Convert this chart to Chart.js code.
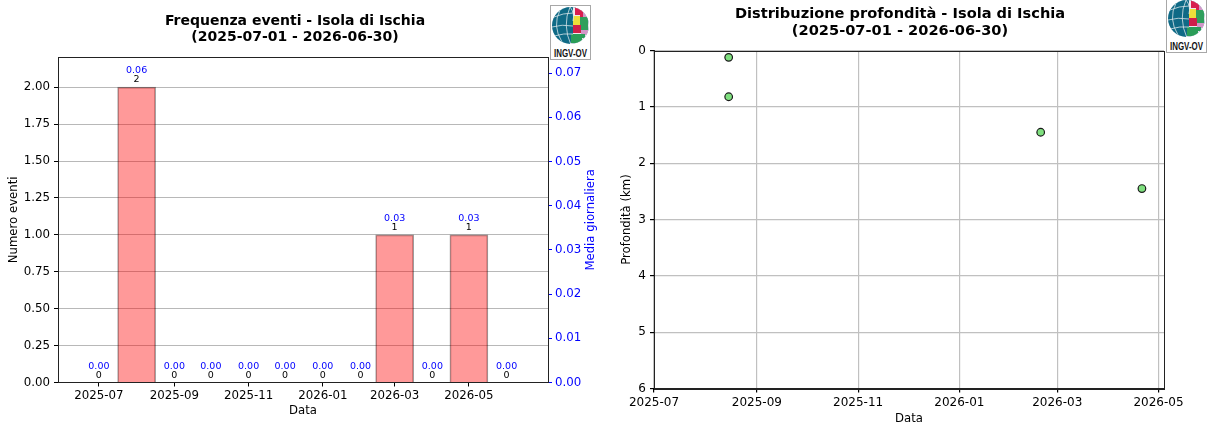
<!DOCTYPE html>
<html><head><meta charset="utf-8">
<style>
html,body{margin:0;padding:0;background:#fff;width:1207px;height:427px;overflow:hidden}
.w{position:absolute;top:0;height:427px}
.logo{position:absolute}
</style>
<script src="https://cdn.jsdelivr.net/npm/chart.js@4/dist/chart.umd.min.js"></script>
</head><body>
<div class="w" style="left:-14px;width:618px"><canvas id="c1"></canvas></div>
<div class="w" style="left:600px;width:600px"><canvas id="c2"></canvas></div>
<svg class="logo" style="left:550px;top:5px" width="41" height="55" viewBox="0 0 41 55"><defs>
<clipPath id="gc"><circle cx="20.5" cy="20.5" r="18.5"/></clipPath>
<g id="lg">
<rect x=".5" y=".5" width="40" height="54" fill="#fff" stroke="#a8a8a8"/>
<g clip-path="url(#gc)">
<rect x="1" y="1" width="40" height="40" fill="#0f6a86"/>
<path d="M23 1h18v40H20v-3h3z" fill="#efe9ee"/>
<path d="M25 2h8v10h-3v-2h-5z" fill="#d81f4f"/>
<path d="M33 3h5v9h-5z" fill="#d296c8"/>
<path d="M23 11h7v9h-7z" fill="#ecdf3a"/>
<path d="M30 12h8v13h-8z" fill="#2f9f5c"/>
<path d="M23 20h8v8h-8z" fill="#cf1f4a"/>
<path d="M31 25h7v5h-7z" fill="#d296c8"/>
<path d="M21 29h14v4h-3v5H21z" fill="#2a9d58"/>
<path d="M2 22q10-3 21-1M4 12q9-4 19-4M4 31q10-3 19-2M20 2q-8 18 1 38M10 5q-8 16 2 32M20 2q5 6 3 14" stroke="#dbe6ea" stroke-width=".8" fill="none"/>
</g>
<text x="20.5" y="52" text-anchor="middle" font-family="Liberation Sans Narrow, Liberation Sans" font-weight="700" font-size="11" textLength="33" lengthAdjust="spacingAndGlyphs" fill="#111">INGV-OV</text>
</g></defs><use href="#lg"/></svg>
<svg class="logo" style="left:1166px;top:-2px" width="41" height="55" viewBox="0 0 41 55"><use href="#lg"/></svg>
<script>
const FONT = 'DejaVu Sans';
const monthLabels = ['2025-07','2025-08','2025-09','2025-10','2025-11','2025-12','2026-01','2026-02','2026-03','2026-04','2026-05','2026-06'];
const monthDays = [0,31,62,92,123,153,184,215,243,274,304,335];
const eventCounts = [0,2,0,0,0,0,0,0,1,0,1,0];
const dailyMeans = [0,0.06,0,0,0,0,0,0,0.03,0,0.03,0];
const tickDays = [0,62,123,184,243,304];
const tickLabels = ['2025-07','2025-09','2025-11','2026-01','2026-03','2026-05'];
const leftTicks = [0,0.25,0.5,0.75,1,1.25,1.5,1.75,2];
const rightTicks = [0,0.01,0.02,0.03,0.04,0.05,0.06,0.07];
const quakeDays = [45,45,233,294];
const quakeDepths = [0.12,0.82,1.45,2.45];
const depthTicks = [0,1,2,3,4,5,6];
const title1 = ['Frequenza eventi - Isola di Ischia','(2025-07-01 - 2026-06-30)'];
const title2 = ['Distribuzione profondità - Isola di Ischia','(2025-07-01 - 2026-06-30)'];

Chart.defaults.font.family = FONT;
Chart.defaults.animation = false;
Chart.defaults.responsive = true;
Chart.defaults.maintainAspectRatio = false;

const setTicks = vals => s => { s.ticks = vals.map(v => ({value:v})); };
const xLabel = v => { const i = tickDays.indexOf(v); return i < 0 ? '' : tickLabels[i]; };
const fitW = w => s => { s.width = w; };
const fitH = h => s => { s.height = h; };

const barLabels = {id:'barLabels',afterDatasetsDraw(ch){
  const {ctx,scales:{x,y,y2}}=ch;
  ctx.save();ctx.textAlign='center';ctx.textBaseline='alphabetic';
  ctx.font='9.5px '+FONT;
  monthDays.forEach((d,i)=>{
    const px=x.getPixelForValue(d),py=y.getPixelForValue(eventCounts[i]);
    ctx.fillStyle='#000';ctx.fillText(String(eventCounts[i]),px,py-5);
    ctx.fillStyle='#0000ff';ctx.fillText(dailyMeans[i].toFixed(2),px,py-14);
  });
  ctx.font='11.7px '+FONT;ctx.fillStyle='#0000ff';
  ctx.translate(y2.right-13,(y2.top+y2.bottom)/2);ctx.rotate(-Math.PI/2);
  ctx.textBaseline='middle';ctx.fillText('Media giornaliera',0,0);
  ctx.restore();
}};
const frame = {id:'frame',afterDatasetsDraw(ch){
  const {ctx,chartArea:a}=ch;
  ctx.save();ctx.strokeStyle='#222';ctx.lineWidth=1;
  ctx.strokeRect(Math.round(a.left)+.5,Math.round(a.top)+.5,Math.round(a.width),Math.round(a.height));
  ctx.restore();
}};

new Chart(document.getElementById('c1'),{
  data:{datasets:[
    {type:'bar',yAxisID:'y',data:monthDays.map((d,i)=>({x:d,y:eventCounts[i]})),backgroundColor:'rgba(255,0,0,0.4)',borderColor:'rgba(0,0,0,0.4)',borderWidth:1,barThickness:38},
    {type:'line',yAxisID:'y2',data:monthDays.map((d,i)=>({x:d,y:dailyMeans[i]})),showLine:false,pointRadius:0}
  ]},
  plugins:[barLabels,frame],
  options:{
    plugins:{legend:{display:false},tooltip:{enabled:false},
      title:{display:true,text:title1,color:'#000',font:{size:14,weight:'bold',family:FONT,lineHeight:1.15},padding:{top:13,bottom:12}}},
    scales:{
      x:{type:'linear',offset:false,min:-33.6,max:369,grid:{offset:false,drawOnChartArea:false,tickColor:'#000',tickLength:4},border:{color:'#222'},
        afterBuildTicks:setTicks(tickDays),afterFit:fitH(44.5),
        ticks:{color:'#000',font:{size:11.8},callback:xLabel,maxRotation:0,autoSkip:false,padding:2},
        title:{display:true,text:'Data',color:'#000',font:{size:11.7},padding:{top:0,bottom:9}}},
      y:{position:'left',min:0,max:2.203,grid:{color:'#b8b8b8',lineWidth:1,tickColor:'#000',tickLength:4},border:{color:'#222'},
        afterBuildTicks:setTicks(leftTicks),afterFit:fitW(72),
        ticks:{color:'#000',font:{size:11.8},callback:v=>v.toFixed(2),padding:4},
        title:{display:true,text:'Numero eventi',color:'#000',font:{size:11.7},padding:{top:21,bottom:0}}},
      y2:{position:'right',min:0,max:0.0736,grid:{drawOnChartArea:false,tickColor:'#0000ff',tickLength:4},border:{color:'#222'},
        afterBuildTicks:setTicks(rightTicks),afterFit:fitW(56),
        ticks:{color:'#0000ff',font:{size:11.8},callback:v=>v.toFixed(2),padding:3}}
    }
  }
});

new Chart(document.getElementById('c2'),{
  type:'scatter',
  data:{datasets:[{data:quakeDays.map((d,i)=>({x:d,y:quakeDepths[i]})),backgroundColor:'#7fe07f',borderColor:'#1a1a1a',borderWidth:1.2,pointRadius:3.8}]},
  plugins:[frame],
  options:{
    plugins:{legend:{display:false},tooltip:{enabled:false},
      title:{display:true,text:title2,color:'#000',font:{size:14.6,weight:'bold',family:FONT,lineHeight:1.15},padding:{top:6,bottom:11}}},
    scales:{
      x:{type:'linear',offset:false,min:0,max:307.3,grid:{color:'#c0c0c0',lineWidth:1.2,tickColor:'#000',tickLength:4},border:{color:'#222'},
        afterBuildTicks:setTicks(tickDays),afterFit:fitH(38.5),
        ticks:{color:'#000',font:{size:12},callback:xLabel,maxRotation:0,autoSkip:false,padding:3},
        title:{display:true,text:'Data',color:'#000',font:{size:11.7},padding:{top:0,bottom:1}}},
      y:{reverse:true,min:0,max:6,grid:{color:'#c0c0c0',lineWidth:1.2,tickColor:'#000',tickLength:4},border:{color:'#222'},
        afterBuildTicks:setTicks(depthTicks),afterFit:fitW(54),
        ticks:{color:'#000',font:{size:12},callback:v=>String(v),padding:4},
        title:{display:true,text:'Profondità (km)',color:'#000',font:{size:11.7},padding:{top:20,bottom:0}}},
      spacer:{position:'right',min:0,max:1,grid:{display:false},border:{display:false},ticks:{display:false},afterFit:fitW(36)}
    }
  }
});
</script>
</body></html>
